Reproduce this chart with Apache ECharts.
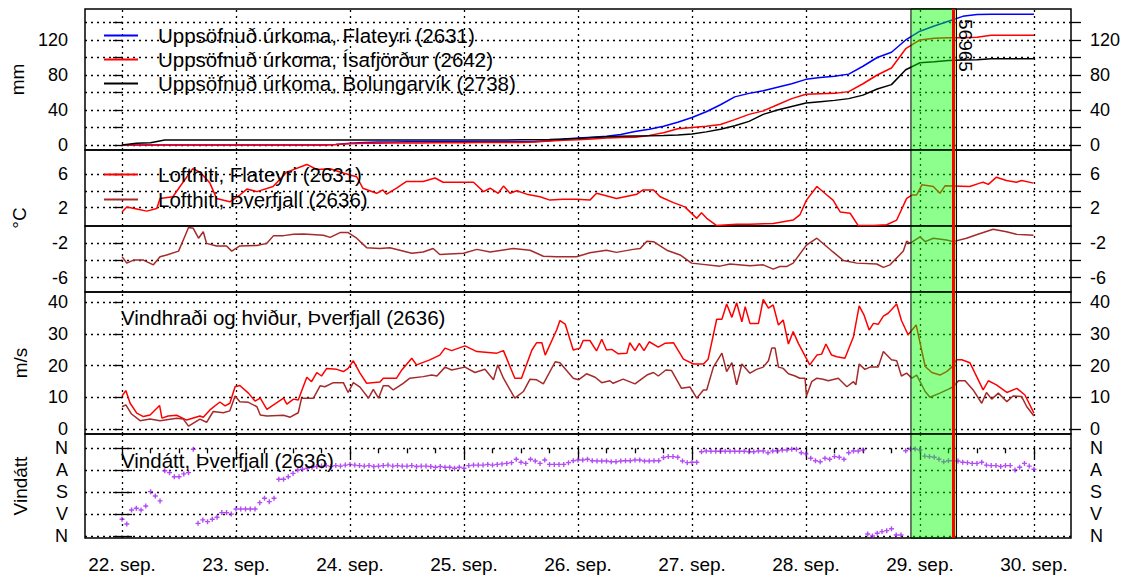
<!DOCTYPE html>
<html>
<head>
<meta charset="utf-8">
<script src="https://cdn.jsdelivr.net/npm/echarts@6.0.0/dist/echarts.min.js"></script>
<style>
html, body { margin: 0; padding: 0; background: #fff; }
#chart { width: 1125px; height: 583px; }
</style>
</head>
<body>
<div id="chart"></div>
<script>
// tímaás: klukkustundir frá 22. sep. kl. 00
const days = ['22. sep.', '23. sep.', '24. sep.', '25. sep.', '26. sep.', '27. sep.', '28. sep.', '29. sep.', '30. sep.'];
const dirLabels = ['N', 'A', 'S', 'V', 'N'];

// uppsöfnuð úrkoma, á 3 klst fresti
const precipHours = Array.from({ length: 65 }, (_, i) => i * 3);
const rainFlateyri = [0, 0, 0, 0, 0, 0, 0, 0, 0, 0, 0, 0, 0, 0, 0,
  0.5, 2, 3, 3.5, 3.5, 3.6, 3.6, 3.7, 3.7, 3.7, 3.8, 3.8, 3.8, 3.8, 4, 5, 7, 8, 9, 10, 12, 15.5, 18, 21.5, 26,
  31.5, 38, 46, 55, 59, 62, 66, 70, 75, 77, 78.5, 81, 90, 100, 106, 120, 130, 136, 141.5, 147, 149, 149.3, 149.3, 149.3, 149.3];
const rainIsafjordur = [0, 0, 0, 0, 0, 0, 0, 0, 0, 0, 0, 0, 0, 0, 0,
  0.5, 1.5, 2, 2, 2.2, 2.3, 2.4, 2.5, 2.6, 2.7, 2.8, 2.9, 3, 3, 3.5, 4.5, 5.5, 6, 7, 8, 8.5, 9, 11, 14, 18.5,
  20, 21.5, 23.5, 29, 35, 39, 46, 53, 58, 58.5, 59, 61, 70, 80, 88, 110, 120, 122, 122.6, 122.6, 123, 125.3, 125.3, 125.3, 125.3];
const rainBolungarvik = [0, 2, 2.5, 5.7, 5.7, 5.7, 5.7, 5.7, 5.7, 5.7, 5.7, 5.7, 5.7, 5.7, 5.7, 5.7, 5.7, 5.7, 5.7, 5.7, 5.7, 5.7,
  5.8, 5.8, 5.8, 5.8, 5.8, 5.8, 5.9, 6, 6.2, 6.8, 7.5, 8.5, 9.5, 10, 10.3, 10.6, 11, 11.5, 12.5, 15, 18, 22, 27, 35, 40, 44,
  48, 49.5, 51, 53, 57, 64, 69, 86, 94, 95, 96.5, 97, 97.5, 98.6, 98.6, 98.6, 98.6];

// lofthiti [klst, °C]
const tempFlateyri = [[0, 1.5], [1, 2.1], [3.1, 1.85], [5.2, 1.6], [7.3, 1.9], [8, 3.1], [10.7, 3.3], [12.2, 4.5], [14.9, 6.6],
  [16.4, 6.2], [18.5, 4.9], [19.9, 3.1], [22.7, 2.7], [24.8, 3.5], [26.3, 4.2], [28.4, 3.9], [31.8, 4.5], [34.7, 6.2],
  [38.9, 7.1], [41, 6.5], [43.8, 6.6], [45.9, 6.2], [48, 5.85], [49.4, 5.65], [50.7, 4.3], [53.6, 3.7], [54.9, 4.1],
  [55.7, 3.6], [57.8, 4.3], [59.9, 5.1], [63.4, 5.1], [65.9, 5.5], [67.6, 5.0], [74, 5.0], [76.1, 3.9], [77.5, 4.3],
  [79.2, 3.7], [80.3, 4.55], [81.7, 3.7], [83.1, 4.0], [85.2, 3.6], [88, 3.3], [90.1, 2.9], [92.9, 3.0], [95.7, 3.0],
  [98.5, 2.9], [99.9, 3.7], [104.1, 3.1], [108.4, 3.6], [109.7, 4.1], [111.9, 4.1], [113.3, 3.3], [116.1, 2.6],
  [118.5, 2.1], [121, 0.75], [122, 1.4], [123.1, 0.75], [125.2, -0.1], [129.4, 0.05], [132.2, 0.05], [137.1, 0.15],
  [141.3, 0.55], [142.7, 1.15], [144.1, 2.9], [146.3, 4.5], [148.4, 3.5], [149.7, 2.9], [151.2, 1.5], [153.3, 1.35],
  [155, -0.1], [158.2, -0.1], [161, 0], [163.1, 0.55], [165.2, 3.1], [166.3, 3.5], [167.3, 3.5], [168.4, 4.7],
  [170.8, 4.5], [172.2, 3.7], [173.3, 4.6], [178.5, 4.5], [180.6, 4.9], [181.3, 5.0], [182.4, 4.75], [184.1, 5.6],
  [186.2, 5.2], [188.3, 5.0], [189.4, 5.2], [191.9, 4.9]];
const tempThverfjall = [[0, -3.55], [1, -4.3], [2.4, -3.95], [4.5, -3.95], [6.6, -4.5], [8, -3.55], [9.4, -3.35],
  [11.9, -2.9], [12.9, -1.6], [14, -0.15], [15, -0.25], [16.1, -1.4], [17.1, -0.65], [17.8, -2.0], [19.9, -2.3],
  [22, -2.3], [23.1, -2.9], [24.8, -2.3], [28.4, -2.25], [30.5, -2.0], [31.9, -1.1], [34, -1.1], [36.1, -0.95],
  [38.2, -0.9], [42.4, -1.05], [43.8, -1.3], [45.9, -0.75], [47.6, -0.75], [49.4, -1.4], [51.5, -2.5], [54.3, -2.6],
  [56.4, -2.5], [61, -3.15], [63.4, -3.0], [65.5, -2.6], [66.9, -3.3], [71.9, -3.15], [74.7, -2.7], [77.5, -3.0],
  [82.4, -2.6], [85.9, -2.8], [88.7, -3.5], [91.5, -3.55], [95.7, -3.55], [98.5, -3.1], [102, -2.8], [104.1, -3.05],
  [107.6, -2.7], [109.1, -2.6], [110.5, -1.75], [111.9, -1.8], [114.7, -2.8], [117.5, -3.35], [119.9, -4.3],
  [125.9, -4.65], [128, -4.4], [132.2, -4.6], [135, -4.5], [137.1, -5.0], [138.5, -4.7], [139.9, -4.7], [141.3, -4.3],
  [144.1, -2.2], [146.3, -1.4], [149.7, -3.0], [151.9, -4.0], [154.7, -4.3], [158.9, -4.4], [160.3, -4.8],
  [161.7, -4.5], [164.5, -2.9], [165.2, -1.75], [165.9, -2.0], [168, -1.25], [169.1, -1.8], [170.8, -1.4],
  [173.6, -1.6], [175, -1.8], [177.8, -1.4], [179.9, -1.0], [183.4, -0.35], [186.2, -0.65], [188.3, -0.95], [191.9, -1.05]];

// vindur á Þverfjalli [klst, m/s]
const windGust = [[0, 10.4], [0.8, 12.1], [1.7, 8.1], [3.1, 5.0], [4.5, 3.9], [5.9, 4.4], [7.9, 7.4], [8.4, 3.4],
  [9.7, 4.1], [11.5, 4.3], [13.6, 2.8], [16.4, 4.1], [17.1, 3.7], [18.5, 6.0], [20.6, 8.5], [21.7, 7.3], [22.7, 8.1],
  [23.8, 13.3], [24.8, 13.7], [26.6, 11.3], [28, 8.8], [29.1, 9.7], [30.5, 6.2], [31.9, 7.6], [34, 9.7], [34.7, 7.8],
  [36.1, 9.4], [37.1, 9.1], [38.9, 16.3], [39.9, 14.9], [41, 17.8], [42, 16.7], [43.1, 19.1], [45.2, 18.8],
  [46.6, 18.1], [47.6, 19.1], [48.7, 21.5], [50.1, 17.6], [51.5, 14.4], [54.3, 14.8], [55, 16.0], [57.8, 16.0],
  [58.9, 18.6], [61, 22.3], [62, 20.2], [64.8, 21.8], [66.9, 23.3], [68, 25.5], [69.4, 24.7], [72.2, 26.2],
  [74.7, 24.4], [78.9, 23.9], [80.3, 24.7], [82.7, 16.0], [84.1, 16.0], [86.3, 24.9], [87.3, 27.2], [88.4, 27.2],
  [89.1, 23.3], [91.5, 31.2], [92.2, 34.2], [93.3, 33.1], [95, 24.9], [96.4, 25.5], [97.1, 27.9], [98.5, 27.9],
  [99.9, 24.6], [101, 28.3], [102, 24.9], [103.1, 25.1], [104.5, 23.7], [106.3, 23.9], [106.9, 27.2], [108, 24.7],
  [108.9, 27.0], [109.9, 24.7], [111, 27.5], [112.9, 25.8], [114.3, 27.0], [116.1, 27.2], [118.2, 22.0],
  [120.3, 20.5], [122.4, 20.5], [123.4, 22.0], [125.2, 34.6], [126.3, 34.6], [127.3, 39.4], [128.4, 35.2],
  [129.4, 39.8], [130.5, 33.8], [131.2, 38.6], [132.2, 33.3], [134, 33.3], [135, 40.9], [136.1, 38.1], [137.1, 39.1],
  [138.2, 32.8], [139.2, 34.4], [140.3, 26.8], [141.3, 30.7], [142.4, 27.0], [144.8, 20.2], [146.3, 23.3],
  [147.3, 23.6], [148.2, 26.8], [149.4, 23.3], [150.5, 22.8], [152.2, 22.3], [154, 29.1], [155.2, 38.8], [156.2, 36.0],
  [157.3, 31.2], [158.2, 33.3], [159.2, 33.0], [160.3, 35.6], [161.3, 36.5], [163.1, 39.4], [164.1, 34.2],
  [165.5, 29.7], [167.2, 32.8], [169.1, 19.7], [170.5, 17.8], [172.2, 17.0], [173.6, 18.1], [174.7, 19.5],
  [175.7, 21.8], [176.8, 21.8], [178.5, 20.9], [181.3, 12.3], [182.4, 15.2], [184.1, 13.9], [186.3, 11.5],
  [188.4, 12.8], [190.1, 10.7], [192, 5.0]];
const windSpeed = [[0, 7.0], [0.8, 7.6], [2, 4.7], [3.8, 2.6], [5.9, 3.1], [8, 2.6], [11.5, 3.4], [12.9, 3.1],
  [14, 0.9], [16.4, 3.1], [17.8, 2.1], [19.2, 5.5], [21.3, 5.1], [22.7, 5.7], [23.8, 10.4], [24.8, 8.6], [26.6, 8.4],
  [28.4, 7.0], [29.1, 4.4], [30.5, 4.1], [34, 4.3], [35.4, 3.7], [37.1, 5.1], [37.8, 9.7], [40.3, 9.7], [41.7, 13.6],
  [42.7, 13.3], [44.5, 14.6], [46.6, 14.6], [47.6, 11.5], [48.7, 14.6], [50.1, 13.2], [51.9, 9.7], [52.9, 12.5],
  [54, 9.7], [55, 13.6], [56.1, 13.6], [57.1, 12.3], [59.2, 14.4], [60.6, 16.0], [63.4, 16.5], [65.2, 17.0],
  [66.3, 16.7], [68, 19.5], [69.4, 18.6], [72.2, 19.5], [74.3, 17.8], [76.4, 18.8], [78.2, 15.5], [79.1, 20.2],
  [80.3, 16.0], [82.7, 9.7], [84.5, 11.8], [85.9, 15.7], [87.3, 15.5], [88.7, 14.2], [91.2, 21.2], [92.2, 20.9],
  [95, 16.0], [96.1, 15.5], [97.8, 17.4], [99.6, 16.3], [101, 14.6], [102.7, 15.2], [103.4, 14.4], [105.5, 15.7],
  [108, 14.2], [110.5, 17.0], [111.9, 17.8], [112.9, 16.7], [114.5, 18.6], [115.7, 18.4], [117.8, 12.8],
  [119.6, 13.2], [121, 9.7], [122.4, 12.3], [123.1, 12.3], [124.5, 19.5], [126.3, 23.9], [127.3, 18.1], [128.4, 20.9],
  [129.4, 13.9], [130.5, 20.5], [132.2, 17.6], [133.6, 18.8], [135, 19.5], [136.1, 21.5], [136.8, 25.5], [137.5, 25.5],
  [138.2, 19.5], [139.2, 19.1], [140.3, 17.4], [141.7, 16.7], [142.7, 16.0], [143.8, 16.0], [144.1, 10.4],
  [145.2, 14.9], [146.3, 16.0], [147.6, 15.7], [148.7, 15.2], [150.8, 16.0], [152.6, 13.3], [154, 14.9], [154.5, 13.9],
  [155.2, 20.5], [156.4, 18.8], [157.5, 19.5], [159.2, 19.5], [160.3, 24.4], [162, 21.8], [163.1, 21.5], [164.1, 16.7],
  [165.2, 17.6], [166.3, 16.0], [167.3, 17.0], [169.1, 11.8], [170.1, 10.0], [172.2, 11.3], [173.9, 12.5],
  [175, 13.3], [176.1, 15.2], [177.5, 15.2], [179.2, 12.3], [181, 8.1], [182, 11.5], [183.1, 9.4], [184.5, 11.3],
  [186.3, 8.6], [187.6, 10.4], [189.4, 10.2], [190.5, 7.0], [192, 4.1]];

// vindátt á klukkustundar fresti, gráður
const dirHours = Array.from({ length: 193 }, (_, i) => i);
const windDir = [291, 311, 253, 246, 253, 237, 178, 196, 216, 92, 100, 117,
  117, 105, 100, 4, 308, 294, 301, 291, 283, 264, 264, 270,
  249, 249, 249, 249, 249, 223, 205, 219, 205, 127, 127, 117,
  103, 89, 86, 82, 78, 75, 73, 71, 75, 71, 73, 69,
  66, 69, 71, 73, 71, 75, 73, 71, 69, 73, 71, 73,
  73, 71, 75, 73, 73, 75, 78, 75, 78, 78, 82, 78,
  82, 71, 69, 69, 69, 66, 69, 66, 64, 62, 59, 45,
  57, 62, 45, 52, 62, 48, 66, 66, 66, 66, 59, 51,
  48, 48, 45, 51, 52, 52, 52, 55, 55, 52, 51, 51,
  48, 48, 52, 52, 51, 51, 38, 34, 34, 37, 52, 59,
  57, 57, 14, 11, 12, 12, 12, 12, 12, 12, 12, 12,
  14, 14, 11, 11, 18, 11, 11, 7, 7, 4, 4, 18,
  23, 41, 51, 55, 41, 45, 34, 37, 45, 18, 11, 11,
  7, 352, 360, 349, 342, 338, 330, 356, 356, 10, 3, 3,
  7, 32, 34, 37, 45, 55, 51, 51, 52, 57, 59, 62,
  62, 57, 69, 71, 71, 75, 71, 71, 89, 78, 62, 73,
  86];

// atburður (grænt tímabil) og rauða línan, klst
const eventStart = 166.1;
const eventEnd = 175.7;
const eventMark = 175.0;
const eventLabel = '56965';

const FONT = '"Liberation Sans", Arial, sans-serif';
const X_MIN = -7.8, X_MAX = 199.8;
const dayTicks = days.map((d, i) => i * 24);
const sixHourTicks = Array.from({ length: 33 }, (_, i) => i * 6).filter(v => v % 24 !== 0);

const panels = [
  { top: 9, height: 141, min: -5.7, max: 155.4, ticks: [0, 20, 40, 60, 80, 100, 120, 140], labels: [0, 40, 80, 120], name: 'mm' },
  { top: 150, height: 76, min: -0.15, max: 8.8, ticks: [2, 4, 6], labels: [2, 6], name: '' },
  { top: 226, height: 66, min: -7.66, max: 0.02, ticks: [-6, -4, -2], labels: [-6, -2], name: '' },
  { top: 292, height: 142, min: -1.6, max: 43.2, ticks: [0, 10, 20, 30, 40], labels: [0, 10, 20, 30, 40], name: 'm/s' },
  { top: 434, height: 104, min: -58.7, max: 368.2, ticks: [0, 90, 180, 270, 360], labels: [0, 90, 180, 270, 360], name: 'Vindátt',
    inverse: true, fmt: v => dirLabels[Math.round(v / 90)] }
];

const grid = panels.map(p => ({
  left: 85, width: 986, top: p.top, height: p.height,
  show: true, borderColor: '#000', borderWidth: 1.5, backgroundColor: 'transparent'
}));

const xAxis = panels.map((p, i) => ({
  gridIndex: i, type: 'value', min: X_MIN, max: X_MAX, position: 'bottom',
  show: i === 4,
  axisLine: { show: false },
  splitLine: { show: false },
  axisTick: { show: true, customValues: dayTicks, length: 10, lineStyle: { color: '#000', width: 1.3 } },
  axisLabel: { customValues: dayTicks, formatter: v => days[Math.round(v / 24)], color: '#000', fontSize: 19, fontFamily: FONT, margin: 17 }
}));
xAxis.push({
  gridIndex: 4, type: 'value', min: X_MIN, max: X_MAX, position: 'bottom', offset: 0,
  axisLine: { show: false }, splitLine: { show: false }, axisLabel: { show: false },
  axisTick: { show: true, customValues: sixHourTicks, length: 5, lineStyle: { color: '#000', width: 1.3 } }
});

const yAxis = [];
panels.forEach((p, i) => {
  const label = { customValues: p.labels, color: '#000', fontSize: 18, fontFamily: FONT };
  if (p.fmt) label.formatter = p.fmt;
  const common = {
    gridIndex: i, type: 'value', min: p.min, max: p.max, inverse: !!p.inverse,
    axisLine: { show: false }, splitLine: { show: false }
  };
  yAxis.push(Object.assign({}, common, {
    position: 'left',
    name: p.name, nameLocation: 'middle', nameGap: 55,
    nameTextStyle: { color: '#000', fontSize: 19, fontFamily: FONT },
    axisTick: { show: true, customValues: p.ticks, length: 9, lineStyle: { color: '#000', width: 1.3 } },
    axisLabel: Object.assign({ margin: 17 }, label)
  }));
  yAxis.push(Object.assign({}, common, {
    position: 'right',
    axisTick: { show: true, customValues: p.ticks, length: 10, lineStyle: { color: '#000', width: 1.3 } },
    axisLabel: Object.assign({ margin: 19 }, label)
  }));
});

const lineBase = { type: 'line', symbol: 'none', z: 2, lineStyle: { width: 1.5 } };
const series = [
  Object.assign({}, lineBase, { name: 'Uppsöfnuð úrkoma, Flateyri (2631)', xAxisIndex: 0, yAxisIndex: 0, color: '#0000ff',
    data: precipHours.map((h, i) => [h, rainFlateyri[i]]) }),
  Object.assign({}, lineBase, { name: 'Uppsöfnuð úrkoma, Ísafjörður (2642)', xAxisIndex: 0, yAxisIndex: 0, color: '#ff0000',
    data: precipHours.map((h, i) => [h, rainIsafjordur[i]]) }),
  Object.assign({}, lineBase, { name: 'Uppsöfnuð úrkoma, Bolungarvík (2738)', xAxisIndex: 0, yAxisIndex: 0, color: '#000000',
    data: precipHours.map((h, i) => [h, rainBolungarvik[i]]) }),
  Object.assign({}, lineBase, { name: 'Lofthiti, Flateyri (2631)', xAxisIndex: 1, yAxisIndex: 2, color: '#ff0000', data: tempFlateyri }),
  Object.assign({}, lineBase, { name: 'Lofthiti, Þverfjall (2636)', xAxisIndex: 2, yAxisIndex: 4, color: '#a52a2a', data: tempThverfjall }),
  Object.assign({}, lineBase, { name: 'Hviður', xAxisIndex: 3, yAxisIndex: 6, color: '#ff0000', data: windGust }),
  Object.assign({}, lineBase, { name: 'Vindhraði', xAxisIndex: 3, yAxisIndex: 6, color: '#a52a2a', data: windSpeed }),
  {
    name: 'Vindátt', type: 'scatter', xAxisIndex: 4, yAxisIndex: 8, z: 2,
    symbol: 'path://M1.8,0h1.4v1.8h1.8v1.4h-1.8v1.8h-1.4v-1.8h-1.8v-1.4h1.8z', symbolSize: 5,
    itemStyle: { color: '#a020f0' },
    data: dirHours.map((h, i) => [h, windDir[i]])
  }
];

// hjálparraðir: punktalínur, græna tímabilið og rauða línan
panels.forEach((p, i) => {
  const gridLines = p.ticks.map(v => ({ yAxis: v })).concat(dayTicks.map(v => ({ xAxis: v })));
  series.push({
    type: 'line', xAxisIndex: i, yAxisIndex: i * 2, data: [], silent: true,
    markLine: { z: 1, silent: true, symbol: 'none', animation: false, label: { show: false },
      lineStyle: { type: [2, 4], color: '#000', width: 1.3 }, data: gridLines }
  });
  series.push({
    type: 'line', xAxisIndex: i, yAxisIndex: i * 2, data: [], silent: true,
    markArea: { z: 3, silent: true, animation: false,
      itemStyle: { color: 'rgba(0,255,0,0.45)', borderColor: '#000', borderWidth: 1 },
      data: [[{ xAxis: eventStart }, { xAxis: eventEnd }]] },
    markLine: { z: 4, silent: true, symbol: 'none', animation: false, label: { show: false },
      lineStyle: { type: 'solid', color: '#ff0000', width: 3 }, data: [{ xAxis: eventMark }] }
  });
});

const legendText = { color: '#000', fontSize: 20.5, fontFamily: FONT, lineHeight: 20, padding: [0, 0, 0, 15] };
const titleText = { color: '#000', fontSize: 20.5, fontWeight: 'normal', fontFamily: FONT };
const option = {
  animation: false,
  grid, xAxis, yAxis, series,
  legend: [
    { left: 104, top: 25, orient: 'vertical', padding: 0, itemGap: 3, itemWidth: 34, itemHeight: 2, icon: 'rect',
      selectedMode: false, textStyle: legendText,
      data: ['Uppsöfnuð úrkoma, Flateyri (2631)', 'Uppsöfnuð úrkoma, Ísafjörður (2642)', 'Uppsöfnuð úrkoma, Bolungarvík (2738)'] },
    { left: 104, top: 164, orient: 'vertical', padding: 0, itemGap: 4, itemWidth: 34, itemHeight: 2, icon: 'rect',
      selectedMode: false, textStyle: legendText,
      data: ['Lofthiti, Flateyri (2631)', 'Lofthiti, Þverfjall (2636)'] }
  ],
  title: [
    { text: 'Vindhraði og hviður, Þverfjall (2636)', left: 121, top: 307, padding: 0, textStyle: titleText },
    { text: 'Vindátt, Þverfjall (2636)', left: 121, top: 450, padding: 0, textStyle: titleText }
  ]
};

const chart = echarts.init(document.getElementById('chart'), null, { renderer: 'svg' });
chart.setOption(option);

const markX = chart.convertToPixel({ xAxisIndex: 0 }, eventMark);
chart.setOption({
  graphic: [
    { type: 'text', x: 19, y: 218, rotation: Math.PI / 2,
      style: { text: '°C', fill: '#000', font: '19px ' + FONT, align: 'center', verticalAlign: 'middle' } },
    { type: 'text', x: markX + 3, y: 19, rotation: -Math.PI / 2, z: 10,
      style: { text: eventLabel, fill: '#000', font: '19px ' + FONT, align: 'left', verticalAlign: 'bottom' } }
  ]
});
</script>
</body>
</html>
